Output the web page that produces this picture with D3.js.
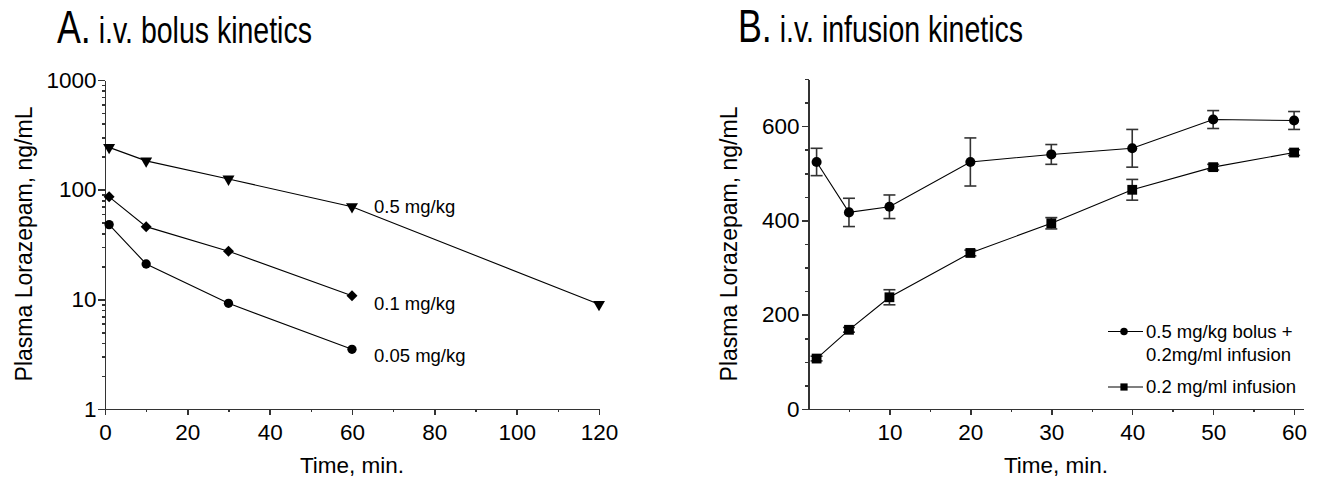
<!DOCTYPE html>
<html>
<head>
<meta charset="utf-8">
<script src="https://cdn.jsdelivr.net/npm/d3@7"></script>
<style>
  html, body { margin: 0; padding: 0; background: #fff; }
  svg { display: block; font-family: "Liberation Sans", Arial, Helvetica, sans-serif; }
  .axis path, .axis line { stroke: #333; stroke-width: 1.5; shape-rendering: crispEdges; }
  .axis text { fill: #000; font-size: 22.5px; font-family: "Liberation Sans", Arial, sans-serif; }
</style>
</head>
<body>
<svg id="chart" width="1319" height="484"></svg>
<script>
// ---- Panel A: i.v. bolus kinetics (log scale) ----
const bolusTimes = [1, 10, 30, 60, 120];
const bolusHigh = [243, 183, 125, 70, 9.0];      // 0.5 mg/kg
const bolusMid = [86, 46, 27.5, 10.8];           // 0.1 mg/kg
const bolusLow = [48, 21, 9.2, 3.5];             // 0.05 mg/kg
const bolusLabels = ["0.5 mg/kg", "0.1 mg/kg", "0.05 mg/kg"];
const bolusXTicks = [0, 20, 40, 60, 80, 100, 120];
const bolusYTicks = [1, 10, 100, 1000];

// ---- Panel B: i.v. infusion kinetics ----
const infusionTimes = [1, 5, 10, 20, 30, 40, 50, 60];
const comboMean = [524, 417, 429, 524, 540, 553, 614, 612];   // bolus + infusion
const comboErr = [29, 30, 25, 51, 21, 40, 19, 19];
const infusionMean = [107, 168, 237, 331, 394, 465, 513, 544]; // infusion only
const infusionErr = [5, 5, 16, 6, 12, 22, 6, 6];
const infusionLegend = [["0.5 mg/kg bolus +", "0.2mg/ml infusion"], ["0.2 mg/ml infusion"]];
const infusionXTicks = [10, 20, 30, 40, 50, 60];
const infusionYTicks = [0, 200, 400, 600];

const yTitle = "Plasma Lorazepam, ng/mL";
const xTitle = "Time, min.";

const svg = d3.select("#chart");
const FONT = "'Liberation Sans', Arial, sans-serif";

// ---------- helpers ----------
function title(x, y, letter, text) {
  const t = svg.append("text")
    .attr("transform", `translate(${x},${y}) scale(0.77,1)`)
    .attr("font-family", FONT)
    .attr("fill", "#000");
  t.append("tspan").attr("font-size", 46.5).text(letter + ".");
  t.append("tspan").attr("font-size", 37).text(" " + text);
}

function yAxisTitle(xBase, yCenter) {
  svg.append("text")
    .attr("transform", `translate(${xBase},${yCenter}) rotate(-90)`)
    .attr("text-anchor", "middle")
    .attr("font-family", FONT)
    .attr("font-size", 23)
    .text(yTitle);
}

function xAxisTitle(xCenter, yBase) {
  svg.append("text")
    .attr("x", xCenter).attr("y", yBase)
    .attr("text-anchor", "middle")
    .attr("font-family", FONT)
    .attr("font-size", 22.5)
    .text(xTitle);
}

function minorAxis(g, axis) {
  g.attr("class", "axis").call(axis);
  g.select(".domain").remove();
  g.selectAll("text").remove();
}

// ================= Panel A =================
const xA = d3.scaleLinear().domain([0, 120]).range([105, 599]);
const yA = d3.scaleLog().domain([1, 1000]).range([409, 80]);

const minorLog = [];
for (let d = 1; d < 1000; d *= 10) for (let k = 2; k <= 9; k++) minorLog.push(d * k);

minorAxis(svg.append("g").attr("transform", "translate(105,0)"),
  d3.axisLeft(yA).tickValues(minorLog).tickSize(3.5).tickSizeOuter(0));
svg.append("g").attr("class", "axis").attr("transform", "translate(105,0)")
  .call(d3.axisLeft(yA).tickValues(bolusYTicks).tickFormat(d3.format("d"))
    .tickSize(7).tickSizeOuter(0).tickPadding(1.5));

minorAxis(svg.append("g").attr("transform", "translate(0,409)"),
  d3.axisBottom(xA).tickValues(d3.range(10, 120, 20)).tickSize(3).tickSizeOuter(0));
svg.append("g").attr("class", "axis").attr("transform", "translate(0,409)")
  .call(d3.axisBottom(xA).tickValues(bolusXTicks).tickSize(5.5).tickSizeOuter(0).tickPadding(9.5));

const lineA = d3.line().x(d => xA(d[0])).y(d => yA(d[1]));
const seriesA = [
  { values: bolusHigh, symbol: d3.symbolTriangle, size: 62, rotate: 180, label: bolusLabels[0], dy: 0 },
  { values: bolusMid, symbol: d3.symbolSquare, size: 60, rotate: 45, label: bolusLabels[1], dy: 8 },
  { values: bolusLow, symbol: d3.symbolCircle, size: 68, rotate: 0, label: bolusLabels[2], dy: 6 }
];
seriesA.forEach(s => {
  const pts = s.values.map((v, i) => [bolusTimes[i], v]);
  svg.append("path").datum(pts).attr("d", lineA)
    .attr("fill", "none").attr("stroke", "#000").attr("stroke-width", 1.1);
  svg.append("g").selectAll("path").data(pts).join("path")
    .attr("d", d3.symbol().type(s.symbol).size(s.size))
    .attr("transform", d => `translate(${xA(d[0])},${yA(d[1])}) rotate(${s.rotate})`)
    .attr("fill", "#000");
  const last = pts[3];
  svg.append("text")
    .attr("x", xA(last[0]) + 22)
    .attr("y", yA(last[1]) + s.dy)
    .attr("dy", "0.35em")
    .attr("font-family", FONT)
    .attr("font-size", 18.5)
    .text(s.label);
});

title(57, 43, "A", "i.v. bolus kinetics");
yAxisTitle(32, 244);
xAxisTitle(352, 473);

// ================= Panel B =================
const xB = d3.scaleLinear().domain([0, 61.1]).range([808.5, 1303]);
const yB = d3.scaleLinear().domain([0, 700]).range([409, 79]);

minorAxis(svg.append("g").attr("transform", "translate(808.5,0)"),
  d3.axisLeft(yB).tickValues(d3.range(50, 701, 50).filter(v => v % 200 !== 0)).tickSize(4).tickSizeOuter(0));
svg.append("g").attr("class", "axis").attr("transform", "translate(808.5,0)")
  .call(d3.axisLeft(yB).tickValues(infusionYTicks).tickFormat(d3.format("d"))
    .tickSize(7).tickSizeOuter(0).tickPadding(2));

minorAxis(svg.append("g").attr("transform", "translate(0,409)"),
  d3.axisBottom(xB).tickValues(d3.range(5, 60, 10)).tickSize(3).tickSizeOuter(0));
svg.append("g").attr("class", "axis").attr("transform", "translate(0,409)")
  .call(d3.axisBottom(xB).tickValues(infusionXTicks).tickSize(6).tickSizeOuter(0).tickPadding(9));

const lineB = d3.line().x(d => xB(d.t)).y(d => yB(d.v));
const seriesB = [
  { mean: comboMean, err: comboErr, symbol: d3.symbolCircle, size: 80 },
  { mean: infusionMean, err: infusionErr, symbol: d3.symbolSquare, size: 96 }
];
seriesB.forEach(s => {
  const pts = s.mean.map((v, i) => ({ t: infusionTimes[i], v, e: s.err[i] }));
  const eb = svg.append("g").attr("stroke", "#333").attr("stroke-width", 1.6).attr("fill", "none");
  eb.selectAll("line.v").data(pts).join("line").attr("class", "v")
    .attr("x1", d => xB(d.t)).attr("x2", d => xB(d.t))
    .attr("y1", d => yB(d.v - d.e)).attr("y2", d => yB(d.v + d.e));
  eb.selectAll("line.top").data(pts).join("line").attr("class", "top")
    .attr("x1", d => xB(d.t) - 6).attr("x2", d => xB(d.t) + 6)
    .attr("y1", d => yB(d.v + d.e)).attr("y2", d => yB(d.v + d.e));
  eb.selectAll("line.bot").data(pts).join("line").attr("class", "bot")
    .attr("x1", d => xB(d.t) - 6).attr("x2", d => xB(d.t) + 6)
    .attr("y1", d => yB(d.v - d.e)).attr("y2", d => yB(d.v - d.e));
  svg.append("path").datum(pts).attr("d", lineB)
    .attr("fill", "none").attr("stroke", "#000").attr("stroke-width", 1.1);
  svg.append("g").selectAll("path").data(pts).join("path")
    .attr("d", d3.symbol().type(s.symbol).size(s.size))
    .attr("transform", d => `translate(${xB(d.t)},${yB(d.v)})`)
    .attr("fill", "#000");
});

// legend
const legendRows = [
  { y: 331.5, symbol: d3.symbolCircle, size: 44, lines: infusionLegend[0] },
  { y: 387, symbol: d3.symbolSquare, size: 52, lines: infusionLegend[1] }
];
legendRows.forEach(r => {
  svg.append("line").attr("x1", 1108).attr("x2", 1143).attr("y1", r.y).attr("y2", r.y)
    .attr("stroke", "#000").attr("stroke-width", 1.1);
  svg.append("path").attr("d", d3.symbol().type(r.symbol).size(r.size)())
    .attr("transform", `translate(1124,${r.y})`).attr("fill", "#000");
  r.lines.forEach((txt, i) => {
    svg.append("text").attr("x", 1146).attr("y", r.y + i * 23.5).attr("dy", "0.35em")
      .attr("font-family", FONT).attr("font-size", 18.5).text(txt);
  });
});

title(738, 42, "B", "i.v. infusion kinetics");
yAxisTitle(737, 244);
xAxisTitle(1056, 473);
</script>
</body>
</html>
